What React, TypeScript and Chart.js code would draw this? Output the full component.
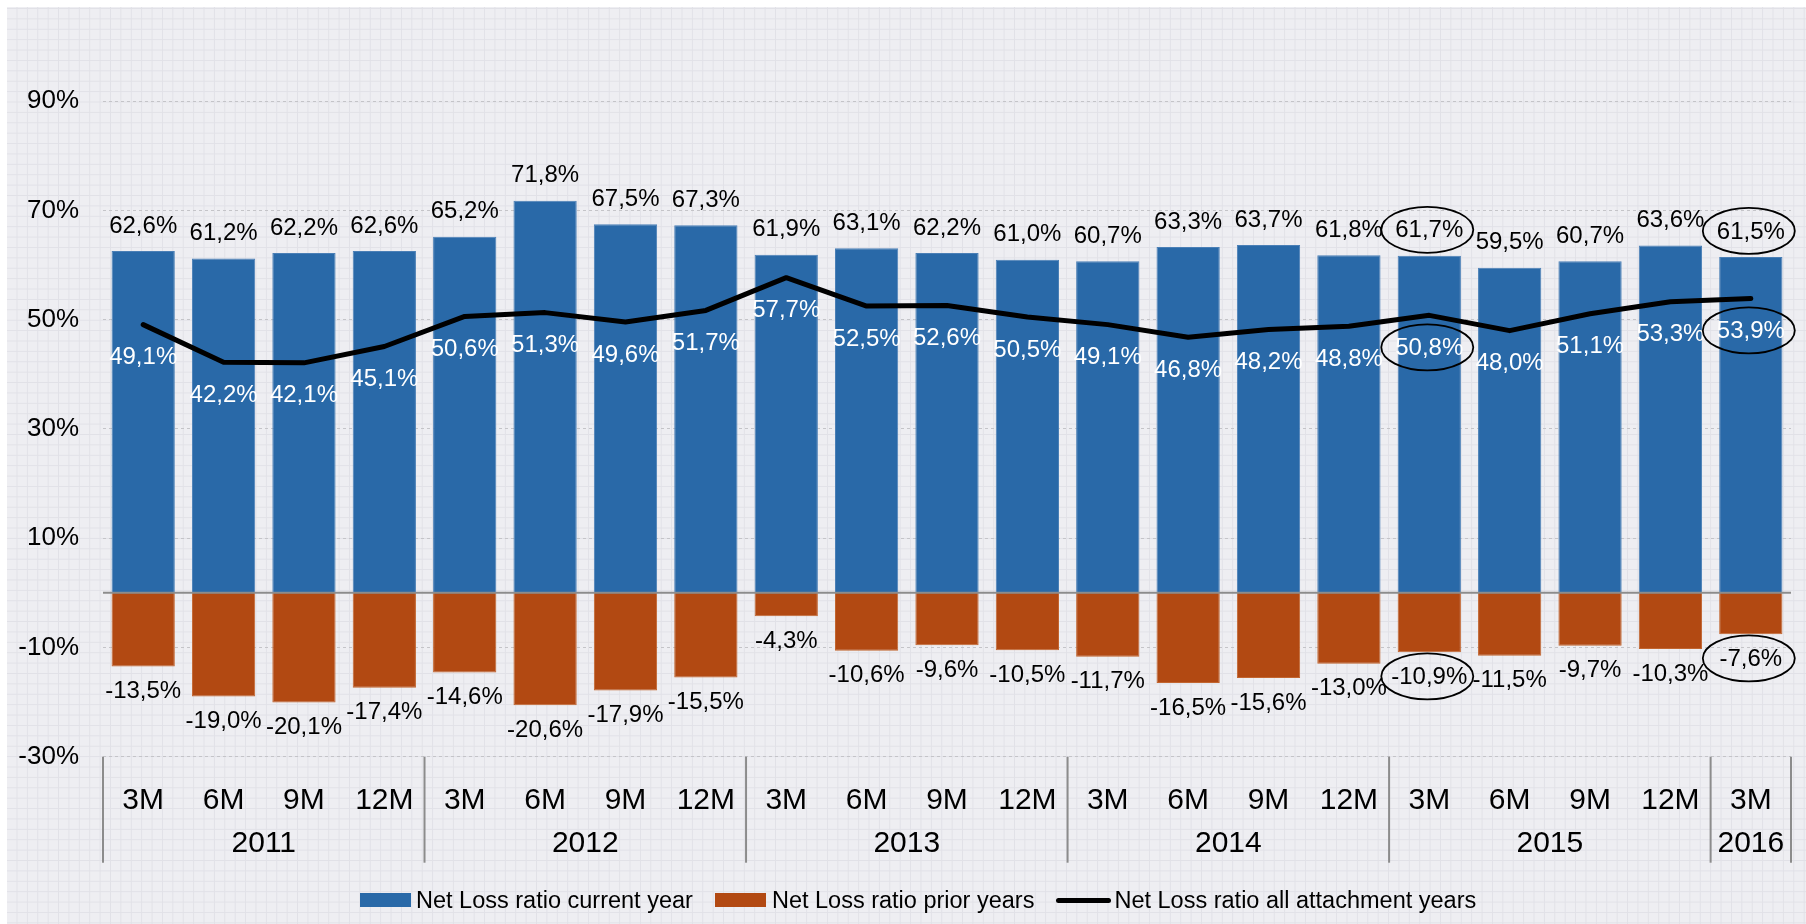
import React, { useEffect, useRef } from "react";
import { Chart, registerables } from "chart.js";

Chart.register(...registerables);

const categories = [
  "3M", "6M", "9M", "12M",
  "3M", "6M", "9M", "12M",
  "3M", "6M", "9M", "12M",
  "3M", "6M", "9M", "12M",
  "3M", "6M", "9M", "12M",
  "3M",
];
const years = ["2011", "2012", "2013", "2014", "2015", "2016"];
const yearGroupSizes = [4, 4, 4, 4, 4, 1];

const currentYear = [
  62.6, 61.2, 62.2, 62.6,
  65.2, 71.8, 67.5, 67.3,
  61.9, 63.1, 62.2, 61.0,
  60.7, 63.3, 63.7, 61.8,
  61.7, 59.5, 60.7, 63.6,
  61.5,
];
const priorYears = [
  -13.5, -19.0, -20.1, -17.4,
  -14.6, -20.6, -17.9, -15.5,
  -4.3, -10.6, -9.6, -10.5,
  -11.7, -16.5, -15.6, -13.0,
  -10.9, -11.5, -9.7, -10.3,
  -7.6,
];
const allYears = [
  49.1, 42.2, 42.1, 45.1,
  50.6, 51.3, 49.6, 51.7,
  57.7, 52.5, 52.6, 50.5,
  49.1, 46.8, 48.2, 48.8,
  50.8, 48.0, 51.1, 53.3,
  53.9,
];
const yTicks = [-30, -10, 10, 30, 50, 70, 90];
const highlighted = [16, 20];

const seriesNames = [
  "Net Loss ratio current year",
  "Net Loss ratio prior years",
  "Net Loss ratio all attachment years",
];

const BLUE = "#2969A8";
const ORANGE = "#B24912";
const FONT = "'Liberation Sans', Arial, sans-serif";

const fmt = (v: number) => v.toFixed(1).replace(".", ",") + "%";

const labelsPlugin = {
  id: "customLabels",
  afterDatasetsDraw(chart: any) {
    const { ctx, chartArea, scales } = chart;
    const x = scales.x;
    const y = scales.y;
    ctx.save();
    // zero line
    const y0 = y.getPixelForValue(0);
    ctx.strokeStyle = "#8C8C8C";
    ctx.lineWidth = 2;
    ctx.beginPath();
    ctx.moveTo(chartArea.left, y0);
    ctx.lineTo(chartArea.right, y0);
    ctx.stroke();

    ctx.font = `24px ${FONT}`;
    ctx.textAlign = "center";
    ctx.textBaseline = "middle";
    const centers: any[] = [];
    currentYear.forEach((v, i) => {
      const px = x.getPixelForValue(i);
      const top = y.getPixelForValue(v) - 25;
      const mid = y.getPixelForValue(allYears[i]) + 33;
      const bot = y.getPixelForValue(priorYears[i]) + 25;
      ctx.fillStyle = "#000";
      ctx.fillText(fmt(v), px, top);
      ctx.fillStyle = "#FFFFFF";
      ctx.fillText(fmt(allYears[i]), px, mid);
      ctx.fillStyle = "#000";
      ctx.fillText(fmt(priorYears[i]), px, bot);
      centers.push([px, top, mid, bot]);
    });
    // ellipses
    ctx.strokeStyle = "#000";
    ctx.lineWidth = 1.8;
    highlighted.forEach((i) => {
      const [px, a, b, c] = centers[i];
      [a, b, c].forEach((cy: number) => {
        ctx.beginPath();
        ctx.ellipse(px - 2, cy - 1, 46, 23, 0, 0, Math.PI * 2);
        ctx.stroke();
      });
    });
    ctx.restore();
  },
  afterDraw(chart: any) {
    const { ctx, chartArea, scales } = chart;
    const x = scales.x;
    const half = (x.getPixelForValue(1) - x.getPixelForValue(0)) / 2;
    ctx.save();
    ctx.strokeStyle = "#8C8C8C";
    ctx.lineWidth = 2;
    let idx = 0;
    const bounds: number[] = [x.getPixelForValue(0) - half];
    yearGroupSizes.forEach((n) => {
      idx += n;
      bounds.push(x.getPixelForValue(idx - 1) + half);
    });
    bounds.forEach((bx) => {
      ctx.beginPath();
      ctx.moveTo(bx, chartArea.bottom);
      ctx.lineTo(bx, chartArea.bottom + 106);
      ctx.stroke();
    });
    ctx.font = `30px ${FONT}`;
    ctx.fillStyle = "#000";
    ctx.textAlign = "center";
    ctx.textBaseline = "middle";
    years.forEach((yr, g) => {
      ctx.fillText(yr, (bounds[g] + bounds[g + 1]) / 2, chartArea.bottom + 87.5);
    });
    ctx.restore();
  },
};

export default function App() {
  const ref = useRef<HTMLCanvasElement | null>(null);
  useEffect(() => {
    if (!ref.current) return;
    const chart = new Chart(ref.current, {
      type: "bar",
      data: {
        labels: categories,
        datasets: [
          {
            type: "line",
            label: seriesNames[2],
            data: allYears,
            borderColor: "#000",
            borderWidth: 5,
            pointRadius: 0,
            borderCapStyle: "round",
            borderJoinStyle: "round",
            tension: 0,
            order: 0,
          } as any,
          {
            type: "bar",
            label: seriesNames[0],
            data: currentYear,
            backgroundColor: BLUE,
            borderColor: "#4A7FB6",
            borderWidth: 1,
            barPercentage: 0.787,
            categoryPercentage: 1,
            grouped: false,
            order: 1,
          } as any,
          {
            type: "bar",
            label: seriesNames[1],
            data: priorYears,
            backgroundColor: ORANGE,
            borderColor: "#C2652F",
            borderWidth: 1,
            barPercentage: 0.787,
            categoryPercentage: 1,
            grouped: false,
            order: 1,
          } as any,
        ],
      },
      options: {
        animation: false,
        responsive: true,
        maintainAspectRatio: false,
        layout: { padding: { left: 0, top: 34.7, right: 15, bottom: 0 } },
        plugins: {
          legend: { display: false },
          tooltip: { enabled: false },
        },
        scales: {
          x: {
            grid: { display: false },
            border: { display: false },
            ticks: {
              font: { family: FONT, size: 30 },
              color: "#000",
              padding: 18,
              maxRotation: 0,
              autoSkip: false,
            },
            afterFit: (s: any) => {
              s.height = 167.3;
            },
          },
          y: {
            min: -30,
            max: 100,
            afterBuildTicks: (s: any) => {
              s.ticks = yTicks.map((v) => ({ value: v }));
            },
            grid: {
              color: "#C4C4C8",
              lineWidth: 1,
              drawTicks: false,
            },
            border: { display: false, dash: [3, 3] },
            ticks: {
              font: { family: FONT, size: 26 },
              color: "#000",
              padding: 24,
              callback: (v: any) => v + "%",
            },
            afterFit: (s: any) => {
              s.width = 96;
            },
          },
        },
      },
      plugins: [labelsPlugin],
    });
    return () => chart.destroy();
  }, []);

  const legendItem = (swatch: React.ReactNode, text: string, gap: number) => (
    <div style={{ display: "flex", alignItems: "center", marginRight: 22 }}>
      {swatch}
      <span style={{ marginLeft: gap, whiteSpace: "nowrap" }}>{text}</span>
    </div>
  );

  return (
    <div
      style={{
        position: "fixed",
        left: 7,
        top: 7,
        width: 1799,
        height: 917,
        backgroundColor: "#EEEEF2",
        backgroundImage:
          "linear-gradient(to right, #E1E1E7 1px, transparent 1px), linear-gradient(to bottom, #E1E1E7 1px, transparent 1px)",
        backgroundSize: "10.4px 10.4px",
        backgroundPosition: "9.5px 1px",
      }}
    >
      <canvas ref={ref} style={{ width: "100%", height: "100%", display: "block" }} />
      <div
        style={{
          position: "absolute",
          left: 353,
          top: 875,
          height: 36,
          display: "flex",
          alignItems: "center",
          fontFamily: FONT,
          fontSize: 23.5,
          color: "#000",
        }}
      >
        {legendItem(
          <div style={{ width: 51, height: 14, background: BLUE }} />,
          seriesNames[0],
          5
        )}
        {legendItem(
          <div style={{ width: 51, height: 14, background: ORANGE }} />,
          seriesNames[1],
          6
        )}
        {legendItem(
          <div style={{ width: 55, height: 5, background: "#000", borderRadius: 3 }} />,
          seriesNames[2],
          3
        )}
      </div>
    </div>
  );
}
